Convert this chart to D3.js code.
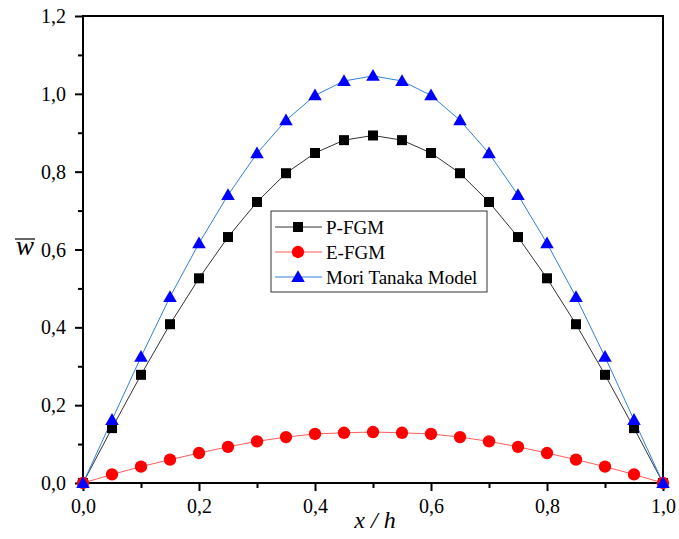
<!DOCTYPE html>
<html>
<head>
<meta charset="utf-8">
<script src="https://cdn.jsdelivr.net/npm/d3@7"></script>
<style>
  body { margin: 0; background: #fff; }
  svg text { font-family: 'Liberation Serif', 'Times New Roman', Times, 'DejaVu Serif', serif; }
</style>
</head>
<body>
<div id="chart"></div>
<script>
// x/h positions and deflection values
const xs = [0, 0.05, 0.1, 0.15, 0.2, 0.25, 0.3, 0.35, 0.4, 0.45, 0.5,
            0.55, 0.6, 0.65, 0.7, 0.75, 0.8, 0.85, 0.9, 0.95, 1.0];
const pFGM = [0, 0.141, 0.278, 0.408, 0.526, 0.632, 0.722, 0.796, 0.848, 0.881, 0.893,
              0.881, 0.848, 0.796, 0.722, 0.632, 0.526, 0.408, 0.278, 0.141, 0];
const eFGM = [0, 0.022, 0.042, 0.060, 0.077, 0.093, 0.107, 0.118, 0.126, 0.129, 0.131,
              0.129, 0.126, 0.118, 0.107, 0.093, 0.077, 0.060, 0.042, 0.022, 0];
const moriTanaka = [0, 0.162, 0.324, 0.478, 0.616, 0.740, 0.847, 0.932, 0.996, 1.033, 1.046,
                    1.033, 0.996, 0.932, 0.847, 0.740, 0.616, 0.478, 0.324, 0.162, 0];
const xTicks = [0, 0.2, 0.4, 0.6, 0.8, 1.0];
const yTicks = [0, 0.2, 0.4, 0.6, 0.8, 1.0, 1.2];
const seriesNames = ['P-FGM', 'E-FGM', 'Mori Tanaka Model'];

const width = 679, height = 539;
const margin = {top: 16, right: 16, bottom: 56, left: 83};
const w = width - margin.left - margin.right;
const h = height - margin.top - margin.bottom;

const serif = "'Liberation Serif', 'Times New Roman', Times, 'DejaVu Serif', serif";

const svg = d3.select('#chart').append('svg')
  .attr('width', width)
  .attr('height', height)
  .style('font-family', serif);

const g = svg.append('g')
  .attr('transform', `translate(${margin.left},${margin.top})`);

const x = d3.scaleLinear().domain([0, 1]).range([0, w]);
const y = d3.scaleLinear().domain([0, 1.2]).range([h, 0]);

const fmt = d => d.toFixed(1).replace('.', ',');

// minor ticks
const xMinor = d3.range(0.1, 1.0, 0.2);
const yMinor = d3.range(0.1, 1.2, 0.2);

g.append('g').attr('transform', `translate(0,${h})`)
  .call(d3.axisBottom(x).tickValues(xMinor).tickSize(5).tickFormat(''))
  .call(a => a.select('.domain').remove())
  .selectAll('line').attr('stroke-width', 2);
g.append('g')
  .call(d3.axisLeft(y).tickValues(yMinor).tickSize(5).tickFormat(''))
  .call(a => a.select('.domain').remove())
  .selectAll('line').attr('stroke-width', 2);

const xAxis = g.append('g').attr('transform', `translate(0,${h})`)
  .call(d3.axisBottom(x).tickValues(xTicks).tickSize(8).tickFormat(fmt));
xAxis.attr('font-family', null).attr('font-size', 20);
xAxis.select('.domain').remove();
xAxis.selectAll('line').attr('stroke-width', 2);
xAxis.selectAll('text')
  .attr('y', 30).attr('dy', null)
  .attr('font-size', 20).attr('fill', '#000')
  .style('font-family', serif);

const yAxis = g.append('g')
  .call(d3.axisLeft(y).tickValues(yTicks).tickSize(8).tickFormat(fmt));
yAxis.attr('font-family', null).attr('font-size', 20);
yAxis.select('.domain').remove();
yAxis.selectAll('line').attr('stroke-width', 2);
yAxis.selectAll('text')
  .attr('x', -17).attr('dy', '0.33em')
  .attr('font-size', 20).attr('fill', '#000')
  .style('font-family', serif);

// frame
g.append('rect')
  .attr('x', 0).attr('y', 0).attr('width', w).attr('height', h)
  .attr('fill', 'none').attr('stroke', '#000').attr('stroke-width', 2);

const line = d3.line().x((d, i) => x(xs[i])).y(d => y(d));

const series = [
  {name: seriesNames[0], data: pFGM, line: '#333333', fill: '#000000', shape: 'square'},
  {name: seriesNames[1], data: eFGM, line: '#ff5c5c', fill: '#ff0000', shape: 'circle'},
  {name: seriesNames[2], data: moriTanaka, line: '#2f7fe0', fill: '#0000ff', shape: 'triangle'}
];

const symbolFor = s => s === 'square' ? d3.symbol().type(d3.symbolSquare).size(100)
  : s === 'circle' ? d3.symbol().type(d3.symbolCircle).size(120)
  : d3.symbol().type(d3.symbolTriangle).size(80);

for (const s of series) {
  g.append('path')
    .datum(s.data)
    .attr('fill', 'none')
    .attr('stroke', s.line)
    .attr('stroke-width', 1)
    .attr('d', line);
}
for (const s of series) {
  g.selectAll(null)
    .data(s.data)
    .enter().append('path')
    .attr('transform', (d, i) => `translate(${x(xs[i])},${y(d) + (s.shape === 'triangle' ? 1 : 0)})`)
    .attr('d', symbolFor(s.shape)())
    .attr('fill', s.fill);
}

// legend
const legend = svg.append('g').attr('transform', 'translate(271,211)');
legend.append('rect')
  .attr('width', 216).attr('height', 81)
  .attr('fill', '#fff').attr('stroke', '#333').attr('stroke-width', 1);

const items = legend.selectAll('.legend-item')
  .data(series)
  .enter().append('g')
  .attr('class', 'legend-item')
  .attr('transform', (d, i) => `translate(0, ${16 + i * 25})`);

items.append('line')
  .attr('x1', 4).attr('x2', 51)
  .attr('stroke', d => d.line).attr('stroke-width', 1);
items.append('path')
  .attr('transform', d => `translate(27,${d.shape === 'triangle' ? 1 : 0})`)
  .attr('d', d => symbolFor(d.shape)())
  .attr('fill', d => d.fill);
items.append('text')
  .attr('x', 55)
  .attr('dy', '0.35em')
  .attr('font-size', 19)
  .text(d => d.name);

// axis titles
svg.append('text')
  .attr('x', 375)
  .attr('y', 528)
  .attr('text-anchor', 'middle')
  .attr('font-size', 24)
  .attr('font-style', 'italic')
  .text('x / h');

svg.append('text')
  .attr('x', 25)
  .attr('y', 255)
  .attr('text-anchor', 'middle')
  .attr('font-size', 27)
  .attr('font-style', 'italic')
  .text('w');
svg.append('line')
  .attr('x1', 15).attr('x2', 35)
  .attr('y1', 239).attr('y2', 239)
  .attr('stroke', '#000').attr('stroke-width', 1.2);
</script>
</body>
</html>
